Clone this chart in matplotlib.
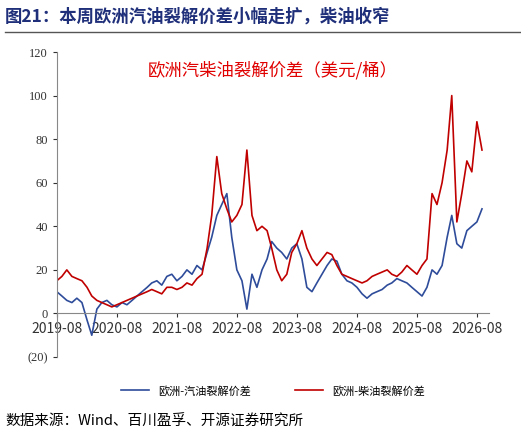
import matplotlib
matplotlib.use('Agg')
import matplotlib.pyplot as plt
import pandas as pd

plt.rcParams['font.family'] = ['Noto Sans CJK SC', 'DejaVu Sans']

dates = pd.date_range('2019-08-01', periods=86, freq='MS')
gasoline = [10, 8, 6, 5, 7,
            5, -3, -10, 2, 5, 6, 4, 3, 5, 4, 6, 8,
            10, 12, 14, 15, 13, 17, 18, 15, 17, 20, 18, 22,
            20, 28, 35, 45, 50, 55, 35, 20, 15, 2, 18, 12,
            20, 25, 33, 30, 28, 25, 30, 32, 25, 12, 10, 14,
            18, 22, 25, 24, 18, 15, 14, 12, 9, 7, 9, 10,
            11, 13, 14, 16, 15, 14, 12, 10, 8, 12, 20, 18,
            22, 35, 45, 32, 30, 38, 40, 42, 48]
diesel = [15, 17, 20, 17, 16,
          15, 12, 8, 6, 5, 4, 3, 4, 5, 6, 7, 8,
          9, 10, 11, 10, 9, 12, 12, 11, 12, 14, 13, 16,
          18, 30, 45, 72, 55, 48, 42, 45, 50, 75, 45, 38,
          40, 38, 30, 20, 15, 18, 28, 32, 38, 30, 25, 22,
          25, 28, 27, 22, 18, 17, 16, 15, 14, 15, 17, 18,
          19, 20, 18, 17, 19, 22, 20, 18, 22, 25, 55, 50,
          60, 75, 100, 42, 55, 70, 65, 88, 75]
xtick_labels = ['2019-08', '2020-08', '2021-08', '2022-08', '2023-08', '2024-08', '2025-08', '2026-08']

fig = plt.figure(figsize=(5.21, 4.37), dpi=100)
ax = fig.add_axes([0.109, 0.183, 0.83, 0.698])
ax.plot(dates, gasoline, color='#2E4C9A', lw=1.2, label='欧洲-汽油裂解价差')
ax.plot(dates, diesel, color='#C00000', lw=1.2, label='欧洲-柴油裂解价差')
ax.set_ylim(-20, 120)
ax.set_yticks(range(-20, 121, 20))
ax.set_yticklabels(['(20)'] + [str(v) for v in range(0, 121, 20)], fontsize=9, family='Liberation Serif')
ax.get_yticklabels()[0].set_color('#C00000')
xt = pd.to_datetime([l + '-01' for l in xtick_labels])
ax.set_xticks(xt)
ax.set_xticklabels(xtick_labels, fontsize=9, family='Liberation Serif')
ax.set_xlim(pd.Timestamp('2019-08-01'), pd.Timestamp('2026-10-15'))
for s in ['top', 'right']:
    ax.spines[s].set_visible(False)
ax.spines['bottom'].set_position(('data', 0))
ax.spines['left'].set_color('#888888')
ax.spines['bottom'].set_color('#888888')
ax.tick_params(axis='both', length=3, colors='#333333')
ax.text(0.5, 0.97, '欧洲汽柴油裂解价差（美元/桶）', transform=ax.transAxes, ha='center', va='top',
        color='#E00000', fontsize=12.5)
ax.legend(loc='upper center', bbox_to_anchor=(0.5, -0.06), ncol=2, frameon=False, fontsize=8,
          handlelength=2.5, columnspacing=4)

fig.text(0.01, 0.963, '图21：本周欧洲汽油裂解价差小幅走扩，柴油收窄', fontsize=12.5, weight='bold',
         color='#1F2F7A', va='center')
fig.add_artist(plt.Line2D([0.01, 1.0], [0.927, 0.927], color='#555555', lw=1.0))
fig.text(0.01, 0.035, '数据来源：Wind、百川盈孚、开源证券研究所', fontsize=10.5, va='center')
fig.savefig('out.png', dpi=100)
